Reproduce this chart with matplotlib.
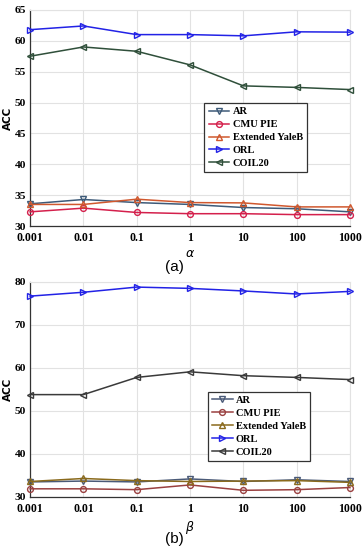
import matplotlib
matplotlib.use("Agg")
import matplotlib.pyplot as plt

x_labels = ["0.001", "0.01", "0.1", "1", "10", "100", "1000"]
series_names = ["AR", "CMU PIE", "Extended YaleB", "ORL", "COIL20"]

# panel (a): alpha
a_AR = [33.6, 34.3, 33.8, 33.5, 33.0, 32.8, 32.3]
a_CMU = [32.3, 32.9, 32.2, 32.0, 32.0, 31.85, 31.85]
a_YaleB = [33.5, 33.5, 34.35, 33.8, 33.75, 33.1, 33.1]
a_ORL = [61.8, 62.4, 61.0, 61.0, 60.8, 61.45, 61.4]
a_COIL = [57.5, 59.0, 58.3, 56.1, 52.7, 52.45, 52.1]

# panel (b): beta
b_AR = [33.5, 33.7, 33.5, 34.2, 33.6, 34.0, 33.6]
b_CMU = [31.9, 31.9, 31.7, 32.8, 31.55, 31.7, 32.2]
b_YaleB = [33.6, 34.3, 33.8, 33.6, 33.7, 33.8, 33.4]
b_ORL = [76.7, 77.6, 78.8, 78.5, 77.9, 77.2, 77.8]
b_COIL = [53.8, 53.8, 57.8, 59.1, 58.2, 57.8, 57.3]

markers = ["v", "o", "^", ">", "<"]
colors_a = ["#3d5a78", "#d4204c", "#d0582e", "#2222e6", "#2f4f3a"]
colors_b = ["#4a5a78", "#9a4040", "#8a6a1c", "#2222e6", "#3a3a3a"]

serif = ["Liberation Serif", "DejaVu Serif"]

fig = plt.figure(figsize=(3.63, 5.5), dpi=100)
ax_a = fig.add_axes([0.083, 0.589, 0.881, 0.393])
ax_b = fig.add_axes([0.083, 0.0964, 0.881, 0.391])

def draw(ax, data, colors, ylim, yticks, xlabel, leg_anchor):
    xs = list(range(len(x_labels)))
    for name, vals, m, c in zip(series_names, data, markers, colors):
        ax.plot(xs, vals, marker=m, color=c, lw=1.1, ms=4.2, mfc="none",
                mec=c, mew=1.0, label=name, clip_on=False, zorder=3)
    ax.set_xlim(0, len(x_labels) - 1)
    ax.set_ylim(*ylim)
    ax.set_yticks(yticks)
    ax.set_xticks(xs)
    ax.set_xticklabels(x_labels)
    ax.grid(True, color="#e2e2e2", lw=0.8)
    ax.set_axisbelow(True)
    for s in ["top", "right"]:
        ax.spines[s].set_color("#e2e2e2")
    for s in ["left", "bottom"]:
        ax.spines[s].set_color("#333333")
        ax.spines[s].set_linewidth(0.9)
    ax.tick_params(axis="x", length=0, pad=4, labelsize=8.5)
    ax.tick_params(axis="y", length=0, pad=3, labelsize=8.2)
    for lab in ax.get_xticklabels() + ax.get_yticklabels():
        lab.set_fontfamily(serif)
        lab.set_fontweight("bold")
    ax.set_ylabel("ACC", fontsize=7.5, fontweight="bold")
    ax.yaxis.set_label_coords(-0.053, 0.5)
    ax.set_xlabel(xlabel, fontsize=9, family=serif, labelpad=3)
    leg = ax.legend(loc="upper left", bbox_to_anchor=leg_anchor, frameon=True,
                    fancybox=False, edgecolor="#333333", framealpha=1,
                    prop={"family": serif, "weight": "bold", "size": 7.5},
                    handlelength=2.0, handletextpad=0.3, borderpad=0.4,
                    labelspacing=0.35, borderaxespad=0)
    leg.get_frame().set_linewidth(0.9)

draw(ax_a, [a_AR, a_CMU, a_YaleB, a_ORL, a_COIL], colors_a,
     (30, 65), [30, 35, 40, 45, 50, 55, 60, 65], r"$\alpha$", (0.545, 0.57))
draw(ax_b, [b_AR, b_CMU, b_YaleB, b_ORL, b_COIL], colors_b,
     (30, 80), [30, 40, 50, 60, 70, 80], r"$\beta$", (0.555, 0.49))

fig.text(0.48, 1 - 267 / 550, "(a)", ha="center", va="center", fontsize=11,
         family=["Liberation Sans", "DejaVu Sans"])
fig.text(0.48, 1 - 539 / 550, "(b)", ha="center", va="center", fontsize=11,
         family=["Liberation Sans", "DejaVu Sans"])

fig.savefig("out.png", dpi=100)
